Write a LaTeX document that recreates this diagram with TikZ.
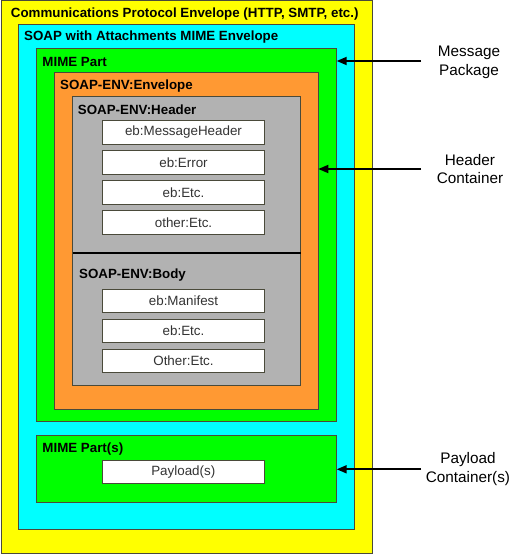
\documentclass[tikz,border=0pt]{standalone}
\usepackage{fontspec}
\setmainfont{Liberation Sans}
\usetikzlibrary{arrows.meta}
\definecolor{edgegray}{HTML}{4A4A3A}
\definecolor{envyellow}{HTML}{FFFF00}
\definecolor{envcyan}{HTML}{00FFFF}
\definecolor{envgreen}{HTML}{00FF00}
\definecolor{envorange}{HTML}{FF9933}
\definecolor{envgray}{HTML}{B2B2B2}
\definecolor{boxtext}{HTML}{333333}
\tikzset{
  panel/.style={draw=edgegray, line width=1bp, anchor=north west, inner sep=0pt, outer sep=0pt},
  title/.style={anchor=west, inner sep=0pt, font=\fontsize{13.33bp}{16bp}\selectfont\bfseries, text=black},
  itembox/.style={draw=edgegray, line width=1bp, fill=white, anchor=north west, inner sep=0pt, outer sep=0pt,
    minimum width=162.4bp, minimum height=23.6bp, font=\fontsize{13.4bp}{16bp}\selectfont, text=boxtext},
  sidelabel/.style={align=center, inner sep=0pt, font=\fontsize{15.3bp}{18.6bp}\selectfont, text=black},
  pointer/.style={line width=1.8bp, -{Triangle[length=10bp,width=8bp]}}
}
\begin{document}
\begin{tikzpicture}[x=1bp,y=-1bp]
\useasboundingbox (0,0) rectangle (513,554);
% nested envelopes
\node[panel, fill=envyellow, minimum width=371.7bp, minimum height=552bp] (proto) at (1,1) {};
\node[title] (protot) at (10.7,14) {Communications Protocol Envelope (HTTP, SMTP, etc.)};
\node[panel, fill=envcyan, minimum width=336bp, minimum height=504.7bp] (swa) at (18.3,24.3) {};
\node[title] (swat) at (24,37.3) {SOAP with Attachments MIME Envelope};
\node[panel, fill=envgreen, minimum width=300.7bp, minimum height=372.7bp] (mime) at (36,49) {};
\node[title] (mimet) at (42.3,61.7) {MIME Part};
\node[panel, fill=envorange, minimum width=264bp, minimum height=336.3bp] (soapenv) at (54.3,72.7) {};
\node[title] (soapenvt) at (60,85.7) {SOAP-ENV:Envelope};
\node[panel, fill=envgray, minimum width=228.2bp, minimum height=288.6bp] (hdr) at (72.5,96.7) {};
\node[title] (hdrt) at (77.7,109.3) {SOAP-ENV:Header};
\coordinate (divl) at (72.5,252.7);
\coordinate (divr) at (300.7,252.7);
\draw[line width=2bp, black] (divl) -- (divr);
\node[title] (bodyt) at (79,275) {SOAP-ENV:Body};
% header items
\node[itembox] (i1) at (102.3,120.7) {eb:MessageHeader};
\node[itembox] (i2) at (102.3,150.7) {eb:Error};
\node[itembox] (i3) at (102.3,180.7) {eb:Etc.};
\node[itembox] (i4) at (102.3,210.9) {other:Etc.};
% body items
\node[itembox] (b1) at (102.3,289) {eb:Manifest};
\node[itembox] (b2) at (102.3,319) {eb:Etc.};
\node[itembox] (b3) at (102.3,349.3) {Other:Etc.};
% payload part
\node[panel, fill=envgreen, minimum width=300.7bp, minimum height=66.3bp] (mimes) at (36,435.7) {};
\node[title] (mimest) at (42.3,449) {MIME Part(s)};
\node[itembox, minimum width=162bp] (pay) at (102.3,460.3) {Payload(s)};
% side labels
\node[sidelabel] (lmsg) at (469,62.5) {Message\\Package};
\node[sidelabel] (lhdr) at (470,169.2) {Header\\Container};
\node[sidelabel] (lpay) at (468,469.2) {Payload\\Container(s)};
\coordinate (amsg) at (421,61);
\coordinate (ahdr) at (421,169);
\coordinate (apay) at (421,469.3);
\draw[pointer] (amsg) -- (mime.east |- amsg);
\draw[pointer] (ahdr) -- (soapenv.east |- ahdr);
\draw[pointer] (apay) -- (mimes.east |- apay);
\end{tikzpicture}
\end{document}
